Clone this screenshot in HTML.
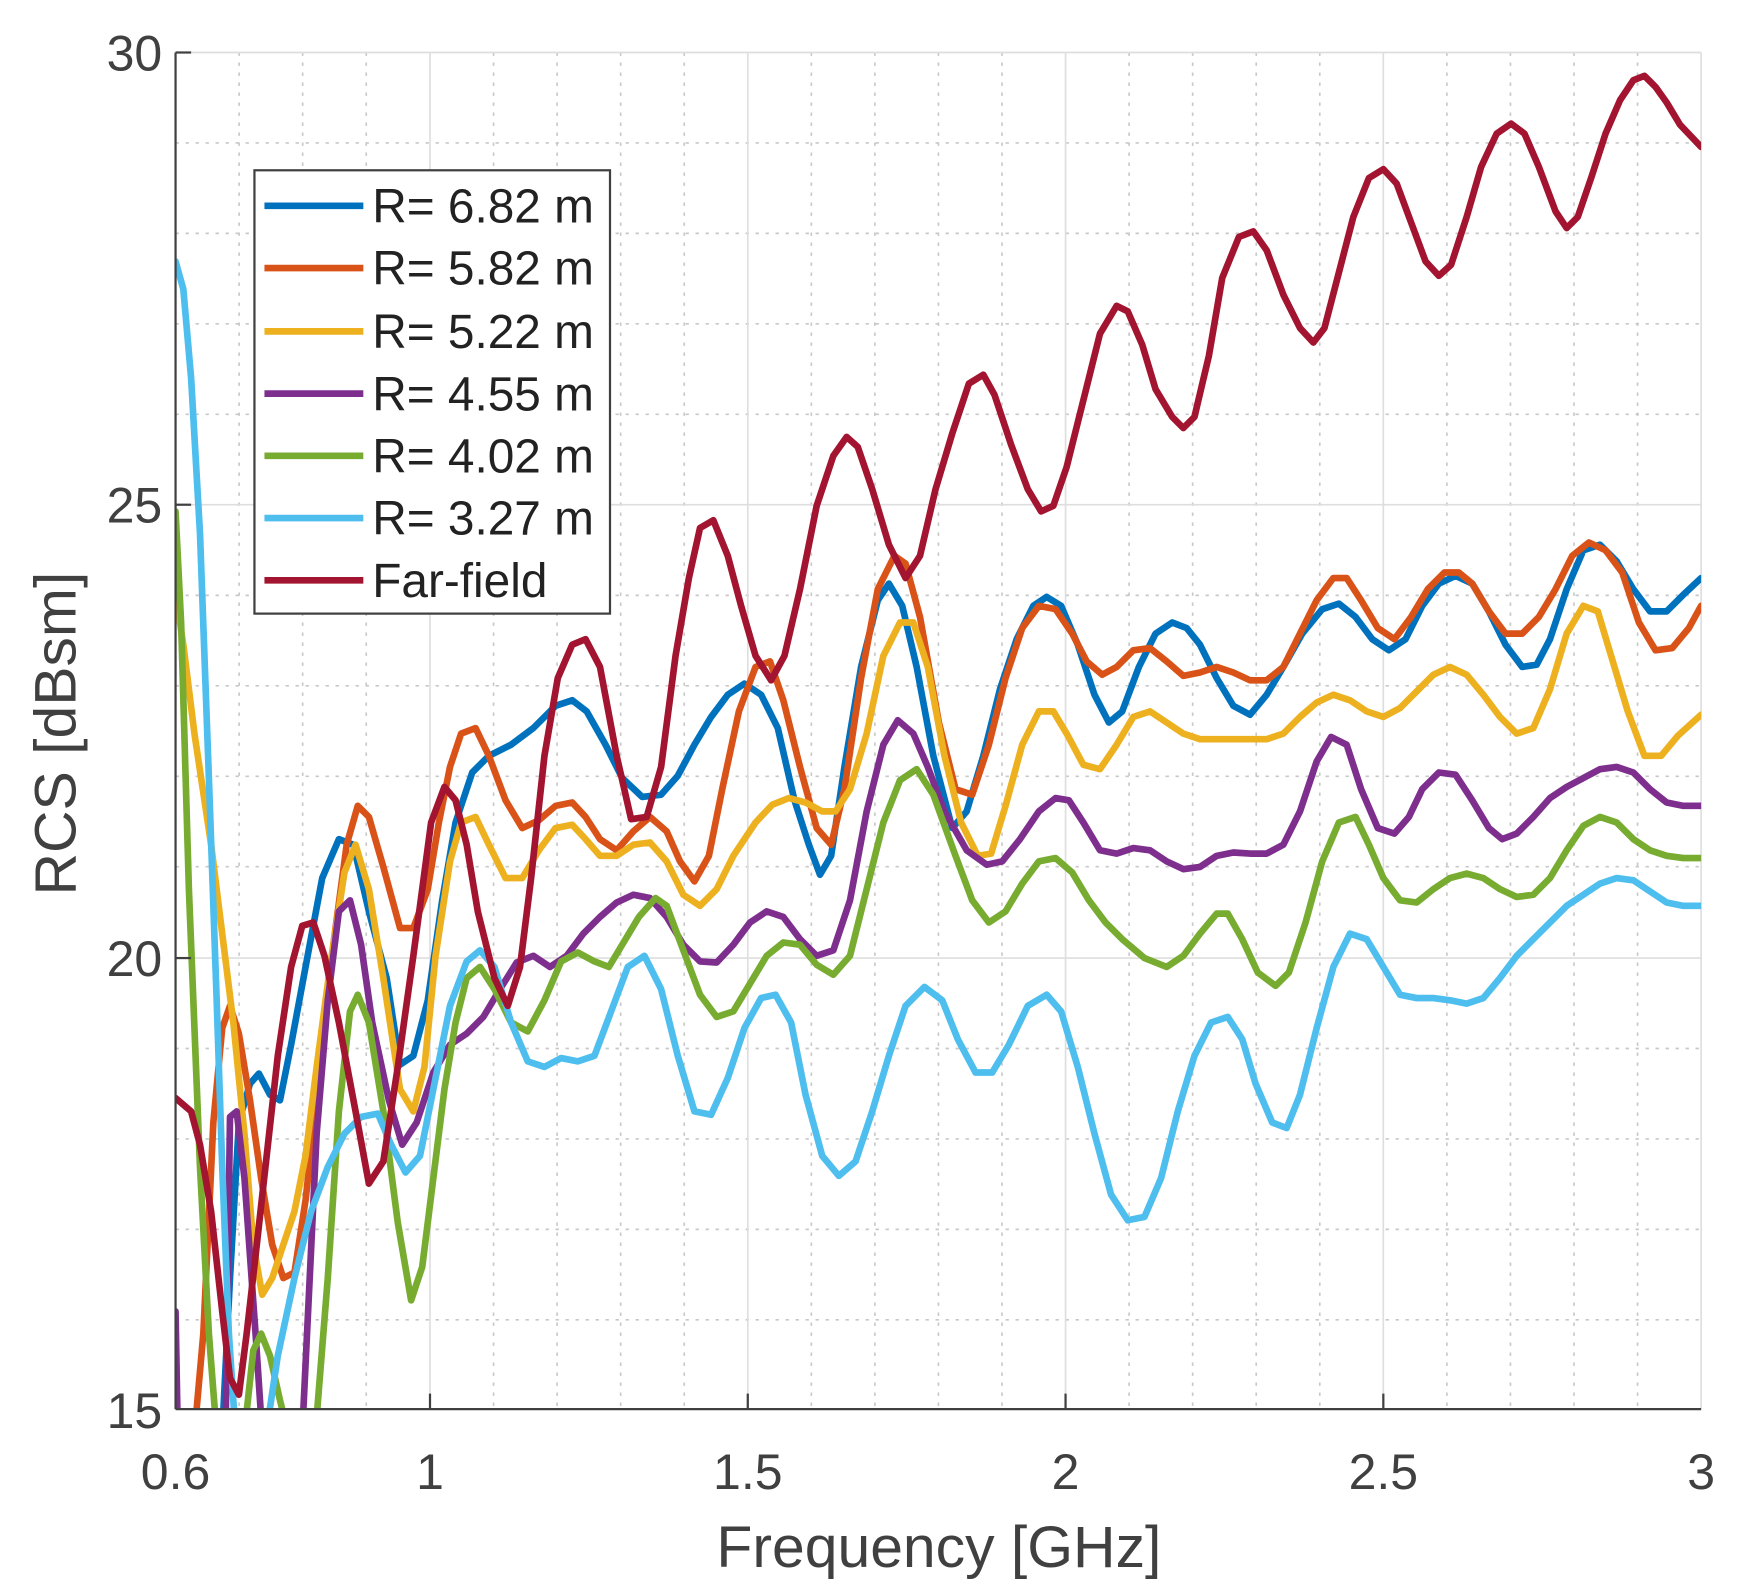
<!DOCTYPE html>
<html><head><meta charset="utf-8"><style>
html,body{margin:0;padding:0;background:#fff;}
svg{display:block;}
text{font-family:"Liberation Sans",Arial,sans-serif;}
</style></head><body>
<svg width="1740" height="1595" viewBox="0 0 1566 1435" xmlns="http://www.w3.org/2000/svg">
<defs><clipPath id="c"><rect x="158" y="47" width="1373" height="1221"/></clipPath></defs>
<rect x="158" y="47" width="1373" height="1221" fill="#fff"/>
<g stroke="#c8c8c8" stroke-width="1.5" stroke-dasharray="3,6">
<line x1="215.2" y1="47" x2="215.2" y2="1268"/><line x1="272.4" y1="47" x2="272.4" y2="1268"/><line x1="329.6" y1="47" x2="329.6" y2="1268"/>
<line x1="444.2" y1="47" x2="444.2" y2="1268"/><line x1="501.4" y1="47" x2="501.4" y2="1268"/><line x1="558.6" y1="47" x2="558.6" y2="1268"/><line x1="615.8" y1="47" x2="615.8" y2="1268"/>
<line x1="730.2" y1="47" x2="730.2" y2="1268"/><line x1="787.4" y1="47" x2="787.4" y2="1268"/><line x1="844.6" y1="47" x2="844.6" y2="1268"/><line x1="901.8" y1="47" x2="901.8" y2="1268"/>
<line x1="1016.2" y1="47" x2="1016.2" y2="1268"/><line x1="1073.4" y1="47" x2="1073.4" y2="1268"/><line x1="1130.6" y1="47" x2="1130.6" y2="1268"/><line x1="1187.8" y1="47" x2="1187.8" y2="1268"/>
<line x1="1302.2" y1="47" x2="1302.2" y2="1268"/><line x1="1359.4" y1="47" x2="1359.4" y2="1268"/><line x1="1416.6" y1="47" x2="1416.6" y2="1268"/><line x1="1473.8" y1="47" x2="1473.8" y2="1268"/>
<line x1="158" y1="128.4" x2="1531" y2="128.4"/><line x1="158" y1="209.8" x2="1531" y2="209.8"/><line x1="158" y1="291.2" x2="1531" y2="291.2"/><line x1="158" y1="372.6" x2="1531" y2="372.6"/>
<line x1="158" y1="535.6" x2="1531" y2="535.6"/><line x1="158" y1="617" x2="1531" y2="617"/><line x1="158" y1="698.4" x2="1531" y2="698.4"/><line x1="158" y1="779.8" x2="1531" y2="779.8"/>
<line x1="158" y1="943.4" x2="1531" y2="943.4"/><line x1="158" y1="1024.8" x2="1531" y2="1024.8"/><line x1="158" y1="1106.2" x2="1531" y2="1106.2"/><line x1="158" y1="1187.6" x2="1531" y2="1187.6"/>
</g>
<g stroke="#dedede" stroke-width="1.5">
<line x1="387" y1="47" x2="387" y2="1268"/><line x1="673" y1="47" x2="673" y2="1268"/><line x1="959" y1="47" x2="959" y2="1268"/><line x1="1245" y1="47" x2="1245" y2="1268"/>
<line x1="158" y1="454" x2="1531" y2="454"/><line x1="158" y1="862" x2="1531" y2="862"/>
<line x1="158" y1="47" x2="1531" y2="47"/><line x1="1531" y1="47" x2="1531" y2="1268"/>
</g>
<g clip-path="url(#c)" fill="none" stroke-width="6" stroke-linejoin="round" stroke-linecap="round">
<polyline stroke="#0072BD" points="200,1290 207,1150 215,1010 225,975 233,966 243,985 252,990 262,940 275,870 290,790 305,755 318,760 332,820 348,880 360,958 372,950 385,900 398,810 410,740 425,695 440,680 460,670 480,655 500,635 515,630 528,640 545,670 560,700 578,717 595,715 610,698 625,670 640,645 655,625 670,615 685,625 700,655 715,720 728,760 738,787 748,770 760,690 775,600 790,540 800,525 812,545 825,600 840,680 857,745 870,730 885,680 900,620 915,575 930,545 942,537 955,545 970,580 985,625 998,650 1010,640 1025,600 1040,570 1055,560 1068,565 1080,580 1095,610 1110,635 1125,643 1140,625 1155,600 1172,570 1190,548 1205,543 1220,555 1235,575 1250,585 1265,575 1280,545 1295,525 1310,518 1325,525 1340,550 1355,580 1370,600 1383,598 1395,575 1410,530 1425,495 1440,490 1455,505 1470,530 1485,550 1500,550 1515,535 1531,520"/>
<polyline stroke="#D95319" points="175,1290 183,1200 192,1010 200,925 207,905 215,930 225,990 235,1060 245,1120 255,1150 265,1145 275,1080 287,970 300,850 312,760 322,725 332,735 345,780 360,835 372,835 385,800 395,740 405,690 415,660 428,655 440,680 455,720 470,745 485,738 500,725 515,722 527,735 540,755 555,765 570,748 585,735 600,748 612,775 625,793 638,770 650,710 665,640 680,600 693,595 705,630 720,690 735,745 748,760 760,710 775,610 790,530 805,500 815,507 828,555 845,650 860,710 875,715 890,670 905,610 920,565 935,545 950,548 965,570 978,595 992,607 1005,600 1020,585 1035,583 1050,595 1065,608 1080,605 1095,600 1110,605 1125,612 1140,612 1155,600 1170,570 1185,540 1200,520 1212,520 1225,540 1240,565 1255,575 1270,555 1285,530 1300,515 1313,515 1325,525 1340,550 1355,570 1370,570 1385,555 1400,530 1415,500 1430,488 1445,495 1460,515 1475,560 1490,585 1505,583 1520,565 1531,545"/>
<polyline stroke="#EDB120" points="158,535 165,580 175,660 190,760 200,840 210,920 220,1020 228,1120 236,1165 245,1150 255,1120 265,1090 275,1040 285,960 297,870 310,785 320,760 332,800 345,880 360,980 372,1000 382,960 392,860 405,775 415,740 428,735 440,760 455,790 470,790 485,765 500,745 515,742 527,755 540,770 555,770 570,760 585,758 600,775 615,805 630,815 645,800 660,770 680,740 695,724 710,718 725,722 740,730 752,730 765,710 780,660 795,590 810,560 822,560 835,600 850,680 865,740 880,770 892,768 905,725 920,670 935,640 948,640 960,660 975,688 990,692 1005,670 1020,645 1035,640 1050,650 1065,660 1080,665 1100,665 1120,665 1140,665 1155,660 1170,645 1185,632 1200,625 1215,630 1230,640 1245,645 1260,637 1275,622 1290,607 1305,600 1320,607 1335,625 1350,645 1365,660 1380,655 1395,620 1410,570 1425,545 1438,550 1450,590 1465,640 1480,680 1495,680 1510,662 1531,643"/>
<polyline stroke="#7E2F8E" points="158,1180 160,1290"/>
<polyline stroke="#7E2F8E" points="203,1290 207,1005 213,1000 220,1060 230,1200 236,1290"/>
<polyline stroke="#7E2F8E" points="272,1290 285,1020 295,900 305,820 315,810 325,850 335,920 350,990 362,1030 375,1010 390,965 405,940 420,930 435,915 450,890 465,866 480,860 495,870 510,860 525,840 540,825 555,812 570,805 585,808 600,825 615,850 630,865 645,866 660,850 675,830 690,820 705,825 720,845 735,860 750,855 765,810 780,730 795,670 808,648 822,660 835,690 850,730 870,765 888,778 902,775 918,755 935,730 950,718 962,720 975,740 990,765 1005,768 1020,763 1035,765 1050,775 1065,782 1080,780 1095,770 1110,767 1125,768 1140,768 1155,760 1170,730 1185,685 1198,663 1212,670 1225,710 1240,745 1255,750 1268,735 1280,710 1295,695 1310,697 1325,720 1340,745 1352,755 1365,750 1380,735 1395,718 1410,708 1425,700 1440,692 1455,690 1470,695 1485,710 1500,722 1515,725 1531,725"/>
<polyline stroke="#77AC30" points="158,460 163,560 170,800 180,1050 188,1200 195,1290"/>
<polyline stroke="#77AC30" points="218,1290 222,1270 228,1215 235,1200 243,1220 252,1260 262,1300"/>
<polyline stroke="#77AC30" points="283,1300 295,1150 305,1000 315,910 322,895 332,920 345,1000 358,1100 370,1170 380,1140 390,1060 400,980 410,920 420,880 432,870 445,890 460,920 475,928 490,900 505,865 520,857 535,865 548,870 560,850 575,825 590,808 600,815 615,855 630,895 645,915 660,910 675,885 690,860 705,848 720,850 735,868 750,877 765,860 780,800 795,740 810,702 825,692 840,715 860,770 875,810 890,830 905,820 920,795 935,775 950,772 965,785 980,810 995,830 1010,845 1030,862 1050,870 1065,860 1080,840 1095,822 1105,822 1118,845 1132,875 1148,887 1160,875 1175,830 1190,775 1205,740 1220,735 1232,760 1245,790 1260,810 1275,812 1290,800 1305,790 1320,786 1335,790 1350,800 1365,807 1380,805 1395,790 1410,765 1425,743 1440,735 1455,740 1470,755 1485,765 1500,770 1515,772 1531,772"/>
<polyline stroke="#4DBEEE" points="158,235 165,260 172,340 180,480 188,700 195,900 200,1050 206,1200 212,1290"/>
<polyline stroke="#4DBEEE" points="238,1300 250,1220 265,1150 280,1090 295,1050 310,1020 325,1005 340,1002 352,1030 365,1055 378,1040 390,980 405,905 420,865 432,855 445,870 460,920 475,955 490,960 505,952 520,955 535,950 550,910 565,870 580,860 595,890 610,950 625,1000 640,1003 655,970 670,925 685,898 698,895 712,920 725,985 740,1040 755,1058 770,1045 785,1000 800,950 815,905 832,888 848,900 862,935 878,965 893,965 908,940 925,905 942,895 955,910 970,960 985,1020 1000,1075 1015,1098 1030,1095 1045,1060 1060,1000 1075,950 1090,920 1105,915 1118,935 1130,975 1145,1010 1158,1015 1170,985 1185,925 1200,870 1215,840 1230,845 1245,870 1260,895 1275,898 1290,898 1305,900 1320,903 1335,898 1350,880 1365,860 1380,845 1395,830 1410,815 1425,805 1440,795 1455,790 1470,792 1485,802 1500,812 1515,815 1531,815"/>
<polyline stroke="#A2142F" points="158,988 172,1000 180,1030 190,1090 200,1180 207,1240 215,1255 222,1200 230,1130 240,1040 250,950 262,870 272,833 282,830 292,860 305,920 320,1000 332,1065 345,1045 358,960 372,860 388,740 400,708 410,720 420,760 430,820 445,880 457,905 468,870 478,790 490,680 502,610 515,580 527,575 540,600 555,680 568,737 582,735 595,690 608,590 620,520 630,475 642,468 655,500 667,545 680,590 694,612 706,590 720,530 735,455 750,410 762,393 772,402 785,440 800,490 815,520 828,500 842,440 857,390 872,345 885,337 895,355 910,400 925,440 937,460 948,455 960,420 975,360 990,300 1005,275 1015,280 1028,310 1040,350 1055,375 1065,385 1075,375 1088,320 1100,250 1115,213 1128,208 1140,225 1155,265 1170,295 1182,308 1192,295 1205,245 1218,195 1232,160 1245,152 1257,165 1270,200 1283,235 1295,248 1306,238 1320,195 1333,150 1347,120 1360,111 1372,120 1385,150 1400,190 1410,205 1420,195 1432,160 1445,120 1458,90 1470,72 1480,68 1490,78 1500,92 1512,112 1531,132"/>
</g>
<g stroke="#404040" stroke-width="2">
<line x1="158" y1="47" x2="158" y2="1268"/><line x1="158" y1="1268" x2="1531" y2="1268"/>
<line x1="158" y1="47" x2="172" y2="47"/><line x1="158" y1="454" x2="172" y2="454"/><line x1="158" y1="862" x2="172" y2="862"/>
<line x1="387" y1="1268" x2="387" y2="1254"/><line x1="673" y1="1268" x2="673" y2="1254"/><line x1="959" y1="1268" x2="959" y2="1254"/><line x1="1245" y1="1268" x2="1245" y2="1254"/>
</g>
<g fill="#404040" font-size="45">
<text x="146" y="63" text-anchor="end">30</text>
<text x="146" y="470" text-anchor="end">25</text>
<text x="146" y="878" text-anchor="end">20</text>
<text x="146" y="1285" text-anchor="end">15</text>
<text x="158" y="1340" text-anchor="middle">0.6</text>
<text x="387" y="1340" text-anchor="middle">1</text>
<text x="673" y="1340" text-anchor="middle">1.5</text>
<text x="959" y="1340" text-anchor="middle">2</text>
<text x="1245" y="1340" text-anchor="middle">2.5</text>
<text x="1531" y="1340" text-anchor="middle">3</text>
</g>
<text x="845" y="1410" text-anchor="middle" font-size="53" fill="#404040">Frequency [GHz]</text>
<text transform="translate(68,660) rotate(-90)" text-anchor="middle" font-size="53" fill="#404040">RCS [dBsm]</text>
<rect x="229" y="153" width="320" height="399" fill="#fff" stroke="#404040" stroke-width="2"/>
<g stroke-width="6">
<line x1="238" y1="185" x2="327" y2="185" stroke="#0072BD"/>
<line x1="238" y1="241" x2="327" y2="241" stroke="#D95319"/>
<line x1="238" y1="298" x2="327" y2="298" stroke="#EDB120"/>
<line x1="238" y1="354" x2="327" y2="354" stroke="#7E2F8E"/>
<line x1="238" y1="410" x2="327" y2="410" stroke="#77AC30"/>
<line x1="238" y1="466" x2="327" y2="466" stroke="#4DBEEE"/>
<line x1="238" y1="522" x2="327" y2="522" stroke="#A2142F"/>
</g>
<g fill="#222" font-size="43">
<text x="335" y="200">R= 6.82 m</text>
<text x="335" y="256">R= 5.82 m</text>
<text x="335" y="313">R= 5.22 m</text>
<text x="335" y="369">R= 4.55 m</text>
<text x="335" y="425">R= 4.02 m</text>
<text x="335" y="481">R= 3.27 m</text>
<text x="335" y="537">Far-field</text>
</g>
</svg>
</body></html>
